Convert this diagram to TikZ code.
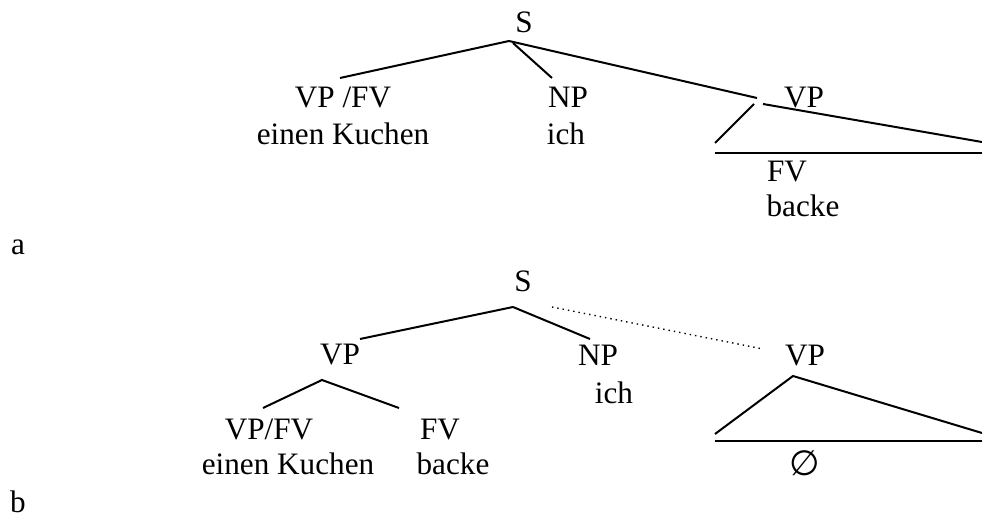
\documentclass[tikz,border=0pt]{standalone}
\usepackage{fontspec}
\setmainfont{Liberation Serif}
\newfontfamily\symbolfont{DejaVu Sans}

\begin{document}
\begin{tikzpicture}[x=0.5pt, y=-0.5pt, every node/.style={anchor=base, inner sep=0pt, font=\fontsize{15.6}{18}\selectfont}, branch/.style={line width=1pt}]
	\useasboundingbox (0,0) rectangle (982,518);
	
	% tree a
	\node (sa) at (524,33) {S};
	\node (vpfva) at (343,108) {VP /FV};
	\node (kuchena) at (343,145) {einen Kuchen};
	\node (npa) at (568,108) {NP};
	\node (icha) at (566,145) {ich};
	\node (vpa) at (804,108) {VP};
	\node (fva) at (787,182) {FV};
	\node (backea) at (803,217) {backe};
	\node (la) at (18,255) {a};
	
	\coordinate (topa) at (509,41);
	\draw[branch] (topa) -- (340,78);
	\draw[branch] (513,43) -- (552,78);
	\draw[branch] (topa) -- (757,98);
	\draw[branch] (754,104) -- (715,143);
	\draw[branch] (763,104) -- (982,142);
	\draw[branch] (715,153) -- (982,153);
	
	% tree b
	\node (sb) at (523,292) {S};
	\node (vpb) at (340,365) {VP};
	\node (npb) at (598,366) {NP};
	\node (ichb) at (614,404) {ich};
	\node (vpfvb) at (269,440) {VP/FV};
	\node (kuchenb) at (288,475) {einen Kuchen};
	\node (fvb) at (440,440) {FV};
	\node (backeb) at (453,475) {backe};
	\node (vprb) at (805,366) {VP};
	\node[font=\fontsize{17.5}{20}\symbolfont] (nullb) at (805,476) {∅};
	\node (lb) at (18,513) {b};
	
	\coordinate (topb) at (513,307);
	\draw[branch] (topb) -- (360,339);
	\draw[branch] (topb) -- (590,339);
	\draw[dotted, line width=.7pt] (552,307) -- (763,349);
	\draw[branch] (263,408) -- (322,380) -- (399,408);
	\draw[branch] (715,434) -- (793,376) -- (982,433);
	\draw[branch] (715,441) -- (982,441);
\end{tikzpicture}
\end{document}
